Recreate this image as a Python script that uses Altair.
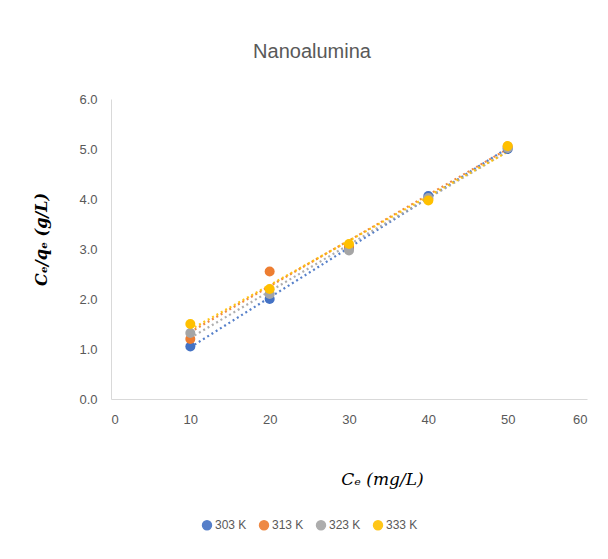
import altair as alt
import pandas as pd

ce = [10, 20, 30, 40, 50]
series_names = ["303 K", "313 K", "323 K", "333 K"]
s303 = [1.05, 2.00, 3.02, 4.06, 5.00]
s313 = [1.20, 2.55, 3.05, 4.00, 5.05]
s323 = [1.32, 2.10, 2.97, 4.02, 5.02]
s333 = [1.50, 2.20, 3.10, 3.97, 5.06]
colors = ["#4472C4", "#ED7D31", "#A5A5A5", "#FFC000"]

rows = []
for name, vals in zip(series_names, [s303, s313, s323, s333]):
    for x, y in zip(ce, vals):
        rows.append({"x": x, "y": y, "series": name})
df = pd.DataFrame(rows)

font = "Liberation Sans"

color = alt.Color(
    "series:N",
    scale=alt.Scale(domain=series_names, range=colors),
    legend=alt.Legend(
        title=None, orient="none", direction="horizontal",
        legendX=90, legendY=420, symbolType="circle", symbolSize=80,
        labelFontSize=12, labelColor="#595959", labelFont=font,
        columnPadding=9, symbolOffset=0, labelOffset=2,
    ),
)

xenc = alt.X(
    "x:Q",
    scale=alt.Scale(domain=[0, 60], nice=False),
    axis=alt.Axis(
        values=[0, 10, 20, 30, 40, 50, 60], format="d", grid=False, ticks=False,
        domainColor="#D9D9D9", labelColor="#595959", labelFontSize=13,
        labelFont=font, labelPadding=14,
        title="Cₑ (mg/L)", titleFont="DejaVu Serif", titleFontStyle="italic",
        titleFontWeight="normal", titleFontSize=17, titleColor="#000000",
        titleX=271, titleY=80, titleBaseline="middle",
    ),
)
yenc = alt.Y(
    "y:Q",
    scale=alt.Scale(domain=[0, 6], nice=False),
    axis=alt.Axis(
        values=[0, 1, 2, 3, 4, 5, 6], format=".1f", grid=False, ticks=False,
        domainColor="#D9D9D9", labelColor="#595959", labelFontSize=13,
        labelFont=font, labelPadding=14,
        title="Cₑ/qₑ (g/L)", titleFont="DejaVu Serif", titleFontStyle="italic",
        titleFontWeight="bold", titleFontSize=16, titleColor="#000000",
        titleX=-62, titleY=140,
    ),
)

base = alt.Chart(df)

lines = base.transform_regression(
    "x", "y", groupby=["series"]
).mark_line(strokeDash=[2, 3], strokeWidth=2.2, opacity=0.9).encode(
    x=xenc, y=yenc, color=color
)

points = base.mark_circle(size=100, opacity=1).encode(
    x=xenc, y=yenc, color=color
)

chart = alt.layer(lines, points).properties(
    width=476, height=300,
    background="white",
    title=alt.TitleParams(
        "Nanoalumina", fontSize=20, font=font, fontWeight="normal",
        color="#595959", anchor="middle", offset=31, dx=-37,
    ),
    padding={"left": 103, "top": 91, "right": 13, "bottom": 140},
    autosize=alt.AutoSizeParams(type="none"),
).configure_view(strokeWidth=0, stroke=None)

chart.save("out.html", embed_options={"renderer": "svg", "actions": False})
